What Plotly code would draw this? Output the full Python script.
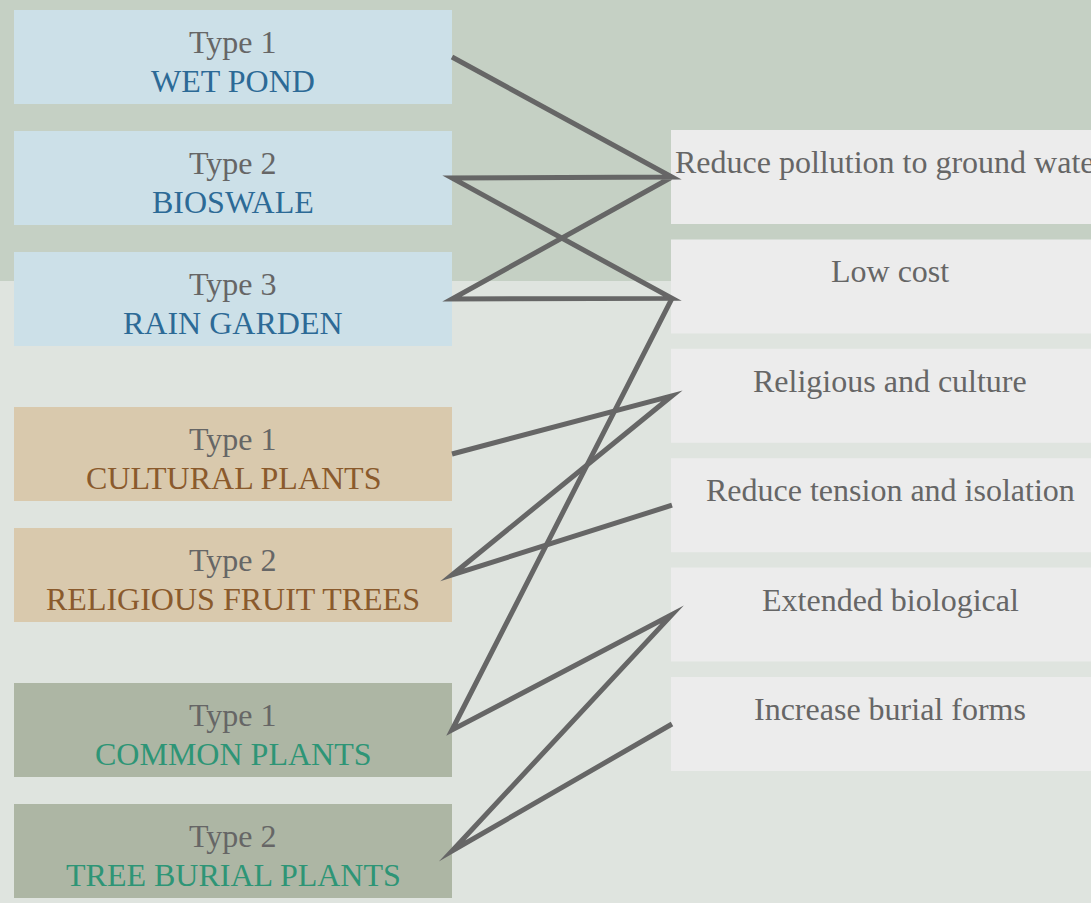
import plotly.graph_objects as go

# ---------------- data ----------------
left_types = ["Type 1", "Type 2", "Type 3", "Type 1", "Type 2", "Type 1", "Type 2"]
left_names = ["WET POND", "BIOSWALE", "RAIN GARDEN", "CULTURAL PLANTS",
              "RELIGIOUS FRUIT TREES", "COMMON PLANTS", "TREE BURIAL PLANTS"]
left_groups = [0, 0, 0, 1, 1, 2, 2]

right_names = ["Reduce pollution to ground water", "Low cost", "Religious and culture",
               "Reduce tension and isolation", "Extended biological", "Increase burial forms"]

# links, written as continuous chains of node names
link_chains = [
    ["WET POND", "Reduce pollution to ground water", "BIOSWALE", "Low cost",
     "RAIN GARDEN", "Reduce pollution to ground water"],
    ["Low cost", "COMMON PLANTS", "Extended biological", "TREE BURIAL PLANTS",
     "Increase burial forms"],
    ["CULTURAL PLANTS", "Religious and culture", "RELIGIOUS FRUIT TREES",
     "Reduce tension and isolation"],
]

# ---------------- layout / style ----------------
W, H = 1091, 903
LEFT_X0, LEFT_X1 = 14, 452
RIGHT_X0, RIGHT_X1 = 671, 1109
BOX_H = 94
LEFT_TOP0, LEFT_PITCH, GROUP_GAP = 10, 121, 34
RIGHT_TOP0, RIGHT_PITCH = 130, 109.4
RIGHT_ANCHOR_DY = [0, 12, 0, 0, 0, 0]
BAND_Y1 = 281

BG_TOP = "#c5d0c4"
BG_LOW = "#dfe4df"
GROUP_FILL = ["#cce0e8", "#d9c9ad", "#adb6a4"]
GROUP_TEXT = ["#2c6a96", "#8a5a2c", "#2e9576"]
RIGHT_FILL = "#ececec"
GRAY = "#666666"
FONT = "Liberation Serif, Times New Roman, serif"
FS = 32

fig = go.Figure()
shapes = [dict(type="rect", xref="x", yref="y", x0=0, x1=W, y0=0, y1=BAND_Y1,
               fillcolor=BG_TOP, line=dict(width=0), layer="below")]
annotations = []

anchor = {}
for i, (t, n, g) in enumerate(zip(left_types, left_names, left_groups)):
    top = LEFT_TOP0 + LEFT_PITCH * i + GROUP_GAP * g
    shapes.append(dict(type="rect", xref="x", yref="y", x0=LEFT_X0, x1=LEFT_X1,
                       y0=top, y1=top + BOX_H, fillcolor=GROUP_FILL[g],
                       line=dict(width=0), layer="below"))
    cx = (LEFT_X0 + LEFT_X1) / 2
    annotations.append(dict(x=cx, y=top + 32, xref="x", yref="y", text=t, showarrow=False,
                            xanchor="center", yanchor="middle",
                            font=dict(family=FONT, size=FS, color=GRAY)))
    annotations.append(dict(x=cx, y=top + 71, xref="x", yref="y", text=n, showarrow=False,
                            xanchor="center", yanchor="middle",
                            font=dict(family=FONT, size=FS, color=GROUP_TEXT[g])))
    anchor[n] = (LEFT_X1, top + BOX_H / 2)

for j, n in enumerate(right_names):
    top = RIGHT_TOP0 + RIGHT_PITCH * j
    shapes.append(dict(type="rect", xref="x", yref="y", x0=RIGHT_X0, x1=RIGHT_X1,
                       y0=top, y1=top + BOX_H, fillcolor=RIGHT_FILL,
                       line=dict(width=0), layer="below"))
    annotations.append(dict(x=(RIGHT_X0 + RIGHT_X1) / 2, y=top + 32, xref="x", yref="y",
                            text=n, showarrow=False, xanchor="center", yanchor="middle",
                            font=dict(family=FONT, size=FS, color=GRAY)))
    anchor[n] = (RIGHT_X0 + 1, top + BOX_H / 2 + RIGHT_ANCHOR_DY[j])

xs, ys = [], []
for chain in link_chains:
    for node in chain:
        xs.append(anchor[node][0])
        ys.append(anchor[node][1])
    xs.append(None)
    ys.append(None)

fig.add_trace(go.Scatter(x=xs, y=ys, mode="lines", hoverinfo="skip", showlegend=False,
                         line=dict(color=GRAY, width=5, simplify=False), cliponaxis=False))

fig.update_layout(
    width=W, height=H, margin=dict(l=0, r=0, t=0, b=0, pad=0),
    paper_bgcolor=BG_LOW, plot_bgcolor=BG_LOW,
    shapes=shapes, annotations=annotations, showlegend=False,
    xaxis=dict(range=[0, W], visible=False, fixedrange=True),
    yaxis=dict(range=[H, 0], visible=False, fixedrange=True),
)

post = """
var s=document.createElement('style');
s.innerHTML='html,body{margin:0;padding:0;overflow:hidden} .js-line{stroke-miterlimit:20 !important; stroke-linejoin:miter !important;}';
document.head.appendChild(s);
"""
fig.write_html("out.html", post_script=post, config={"displayModeBar": False})
